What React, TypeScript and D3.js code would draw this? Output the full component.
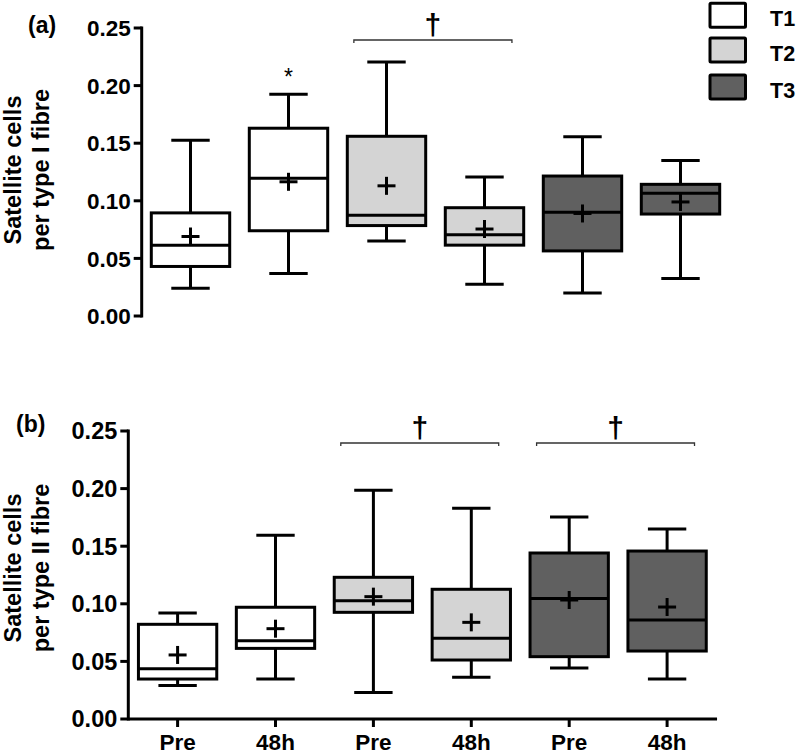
import React from "react";
import * as d3 from "d3";

// ---- data ----
const categories = ["Pre", "48h", "Pre", "48h", "Pre", "48h"];
const groups = ["T1", "T1", "T2", "T2", "T3", "T3"];
const groupNames = ["T1", "T2", "T3"];
const groupColors = ["#ffffff", "#d4d4d4", "#606060"];
const yTicks = [0, 0.05, 0.1, 0.15, 0.2, 0.25];

// Panel (a): type I fibre
const aMin = [0.024, 0.037, 0.065, 0.0275, 0.02, 0.0325];
const aQ1 = [0.043, 0.074, 0.0785, 0.0615, 0.0565, 0.0885];
const aMedian = [0.0615, 0.1195, 0.0875, 0.0705, 0.09, 0.1065];
const aQ3 = [0.0895, 0.163, 0.156, 0.094, 0.1215, 0.1143];
const aMax = [0.1525, 0.1925, 0.2205, 0.1207, 0.1555, 0.135];
const aMean = [0.069, 0.1165, 0.113, 0.0755, 0.089, 0.099];

// Panel (b): type II fibre
const bMin = [0.029, 0.0347, 0.0231, 0.0362, 0.0443, 0.0347];
const bQ1 = [0.0347, 0.0613, 0.0926, 0.0512, 0.0541, 0.059];
const bMedian = [0.0437, 0.068, 0.1027, 0.07, 0.1045, 0.0859];
const bQ3 = [0.0822, 0.097, 0.123, 0.1126, 0.1441, 0.1458];
const bMax = [0.092, 0.1594, 0.1985, 0.1829, 0.1753, 0.1649];
const bMean = [0.0556, 0.0784, 0.1062, 0.0839, 0.1033, 0.0972];

const FONT = "'Liberation Sans', Arial, Helvetica, sans-serif";

type PanelProps = {
  label: string;
  titleLines: string[];
  min: number[];
  q1: number[];
  median: number[];
  q3: number[];
  max: number[];
  mean: number[];
  yTop: number;
  yBottom: number;
  axisX: number;
  xStart: number;
  xEnd: number;
  showXAxis: boolean;
  tickFont: number;
  labelPos: [number, number];
  titleX: [number, number];
  titleY: number;
  brackets: [number, number][];
  stars: number[];
};

function Panel(p: PanelProps) {
  const y = d3.scaleLinear().domain([0, 0.25]).range([p.yBottom, p.yTop]);
  const idx = categories.map((_, i) => String(i));
  const x = d3.scalePoint<string>().domain(idx).range([p.xStart, p.xEnd]).padding(0.5);
  const step = x.step();
  const bw = step * 0.8;
  const cap = bw * 0.49;
  const color = d3.scaleOrdinal<string, string>().domain(groupNames).range(groupColors);
  const sw = 3;

  return (
    <g>
      <text x={p.labelPos[0]} y={p.labelPos[1]} fontFamily={FONT} fontWeight="bold" fontSize={23}>
        {p.label}
      </text>
      {p.titleLines.map((t, i) => (
        <text
          key={i}
          transform={`translate(${p.titleX[i]},${p.titleY}) rotate(-90)`}
          textAnchor="middle"
          fontFamily={FONT}
          fontWeight="bold"
          fontSize={23.5}
        >
          {t}
        </text>
      ))}
      {/* y axis */}
      <line x1={p.axisX} x2={p.axisX} y1={y(0.25) - 1.5} y2={y(0) + 1.5} stroke="#000" strokeWidth={sw} />
      {yTicks.map((t) => (
        <g key={t}>
          <line x1={p.axisX - 8} x2={p.axisX} y1={y(t)} y2={y(t)} stroke="#000" strokeWidth={sw} />
          <text
            x={p.axisX - 11}
            y={y(t)}
            dy="0.36em"
            textAnchor="end"
            fontFamily={FONT}
            fontWeight="bold"
            fontSize={p.tickFont}
          >
            {d3.format(".2f")(t)}
          </text>
        </g>
      ))}
      {p.showXAxis && (
        <g>
          <line x1={p.axisX} x2={p.xEnd + 1} y1={y(0)} y2={y(0)} stroke="#000" strokeWidth={sw} />
          {idx.map((k, i) => (
            <g key={k}>
              <line x1={x(k)!} x2={x(k)!} y1={y(0)} y2={y(0) + 8} stroke="#000" strokeWidth={sw} />
              <text
                x={x(k)!}
                y={y(0) + 31}
                textAnchor="middle"
                fontFamily={FONT}
                fontWeight="bold"
                fontSize={22.5}
              >
                {categories[i]}
              </text>
            </g>
          ))}
        </g>
      )}
      {/* boxes */}
      {idx.map((k, i) => {
        const cx = x(k)!;
        return (
          <g key={k}>
            <line x1={cx} x2={cx} y1={y(p.max[i])} y2={y(p.q3[i])} stroke="#000" strokeWidth={sw} />
            <line x1={cx} x2={cx} y1={y(p.q1[i])} y2={y(p.min[i])} stroke="#000" strokeWidth={sw} />
            <line x1={cx - cap / 2} x2={cx + cap / 2} y1={y(p.max[i])} y2={y(p.max[i])} stroke="#000" strokeWidth={sw} />
            <line x1={cx - cap / 2} x2={cx + cap / 2} y1={y(p.min[i])} y2={y(p.min[i])} stroke="#000" strokeWidth={sw} />
            <rect
              x={cx - bw / 2}
              y={y(p.q3[i])}
              width={bw}
              height={y(p.q1[i]) - y(p.q3[i])}
              fill={color(groups[i])}
              stroke="#000"
              strokeWidth={sw}
            />
            <line x1={cx - bw / 2} x2={cx + bw / 2} y1={y(p.median[i])} y2={y(p.median[i])} stroke="#000" strokeWidth={sw} />
            <line x1={cx - 9} x2={cx + 9} y1={y(p.mean[i])} y2={y(p.mean[i])} stroke="#000" strokeWidth={sw} />
            <line x1={cx} x2={cx} y1={y(p.mean[i]) - 9} y2={y(p.mean[i]) + 9} stroke="#000" strokeWidth={sw} />
          </g>
        );
      })}
      {/* stars */}
      {p.stars.map((i) => (
        <text key={i} x={x(String(i))!} y={y(p.max[i]) - 9} textAnchor="middle" fontFamily={FONT} fontSize={23}>
          *
        </text>
      ))}
      {/* brackets */}
      {p.brackets.map(([a, b], j) => {
        const x1 = x(String(a))! - step * 0.333;
        const x2 = x(String(b))! + step * 0.28;
        const by = y(0.25) + 12;
        return (
          <g key={j}>
            <path
              d={`M${x1},${by + 3}V${by}H${x2}V${by + 3}`}
              fill="none"
              stroke="#333"
              strokeWidth={1.3}
            />
            <text x={(x1 + x2) / 2} y={by - 5.5} textAnchor="middle" fontFamily={FONT} fontWeight="bold" fontSize={30}>
              †
            </text>
          </g>
        );
      })}
    </g>
  );
}

export default function App() {
  return (
    <svg width={800} height={754} style={{ display: "block", position: "absolute", left: 0, top: 0, background: "#fff" }}>
      <rect width={800} height={754} fill="#fff" />
      <Panel
        label="(a)"
        titleLines={["Satellite cells", "per type I fibre"]}
        min={aMin}
        q1={aQ1}
        median={aMedian}
        q3={aQ3}
        max={aMax}
        mean={aMean}
        yTop={28}
        yBottom={316}
        axisX={141.7}
        xStart={141.5}
        xEnd={729.5}
        showXAxis={false}
        tickFont={22.5}
        labelPos={[28, 33]}
        titleX={[20.5, 49]}
        titleY={170}
        brackets={[[2, 3]]}
        stars={[1]}
      />
      <Panel
        label="(b)"
        titleLines={["Satellite cells", "per type II fibre"]}
        min={bMin}
        q1={bQ1}
        median={bMedian}
        q3={bQ3}
        max={bMax}
        mean={bMean}
        yTop={431}
        yBottom={719}
        axisX={128.3}
        xStart={128.65}
        xEnd={716.05}
        showXAxis={true}
        tickFont={23.5}
        labelPos={[16, 432]}
        titleX={[20.5, 49]}
        titleY={568}
        brackets={[[2, 3], [4, 5]]}
        stars={[]}
      />
      {/* legend */}
      {groupNames.map((g, i) => {
        const ly = [15.3, 50, 87][i];
        return (
          <g key={g}>
            <rect x={710} y={ly - 12} width={35.5} height={24} fill={groupColors[i]} stroke="#000" strokeWidth={3} rx={1} />
            <text x={770} y={ly + 10.5} fontFamily={FONT} fontWeight="bold" fontSize={21.5}>
              {g}
            </text>
          </g>
        );
      })}
    </svg>
  );
}
